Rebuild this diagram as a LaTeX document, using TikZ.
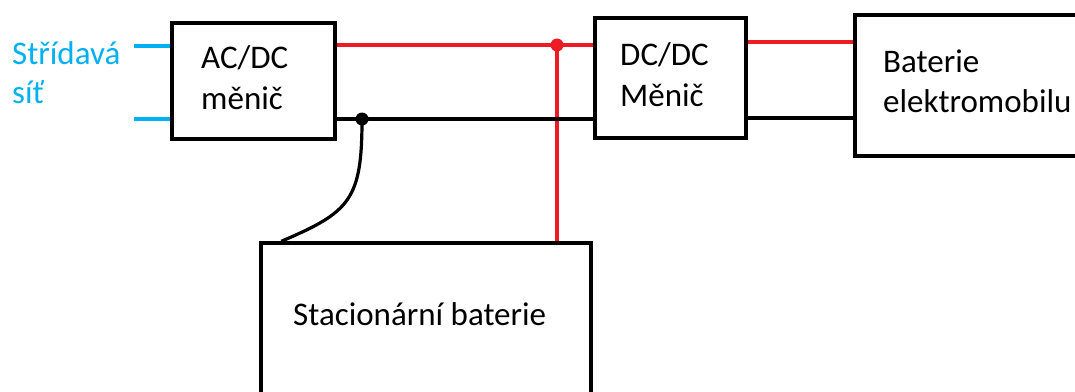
\documentclass[tikz,border=0pt]{standalone}
\usepackage{fontspec}
\setmainfont{Carlito}
\definecolor{acblue}{RGB}{0,176,240}
\definecolor{dcred}{RGB}{237,28,36}
\begin{document}
\begin{tikzpicture}[x=1pt,y=-1pt,
  blk/.style={draw=black,line width=3.4pt,minimum width=#1,inner sep=0pt},
  lbl/.style={anchor=base west,inner sep=0pt,font=\fontsize{33}{40}\selectfont},
  redw/.style={draw=dcred,line width=3.2pt},
  blkw/.style={draw=black,line width=3.2pt},
  bluew/.style={draw=acblue,line width=3.2pt},
  dot/.style={circle,fill=#1,minimum size=13pt,inner sep=0pt}]
\useasboundingbox (0,0) rectangle (1075,391);
% boxes
\node[blk=163pt,minimum height=116pt] (acdc) at (253.5,81) {};
\node[blk=151pt,minimum height=120pt] (dcdc) at (670.5,78) {};
\node[blk=240pt,minimum height=141pt] (bat) at (975,85.5) {};
\node[blk=330pt,minimum height=180pt] (stat) at (426,333) {};
% labels
\node[lbl,text=acblue] (s1) at (12,64) {Střídavá};
\node[lbl,text=acblue] (s2) at (12,103) {síť};
\node[lbl] (a1) at (201,68) {AC/DC};
\node[lbl] (a2) at (201,109) {měnič};
\node[lbl] (d1) at (620,65) {DC/DC};
\node[lbl] (d2) at (620,106) {Měnič};
\node[lbl] (b1) at (883,72) {Baterie};
\node[lbl] (b2) at (883,112) {elektromobilu};
\node[lbl] (st) at (293,325) {Stacionární baterie};
% junction coordinates
\coordinate (ac1) at (134,46);
\coordinate (ac2) at (134,119);
\coordinate (rj) at (557,45);
\coordinate (bj) at (362,119);
\coordinate (rb) at (800,42);
\coordinate (bb) at (800,118);
% wires
\draw[bluew] (ac1) -- (acdc.west |- ac1);
\draw[bluew] (ac2) -- (acdc.west |- ac2);
\draw[redw] (acdc.east |- rj) -- (rj) -- (dcdc.west |- rj);
\draw[redw] (rj) -- (rj |- stat.north);
\draw[redw] (dcdc.east |- rb) -- (bat.west |- rb);
\draw[blkw] (acdc.east |- bj) -- (bj) -- (dcdc.west |- bj);
\draw[blkw] (dcdc.east |- bb) -- (bat.west |- bb);
\draw[blkw] (bj) .. controls (362,200) and (350,212) .. ([xshift=22pt]stat.north west);
% dots
\node[dot=dcred] (rdot) at (rj) {};
\node[dot=black] (bdot) at (bj) {};
\end{tikzpicture}
\end{document}
